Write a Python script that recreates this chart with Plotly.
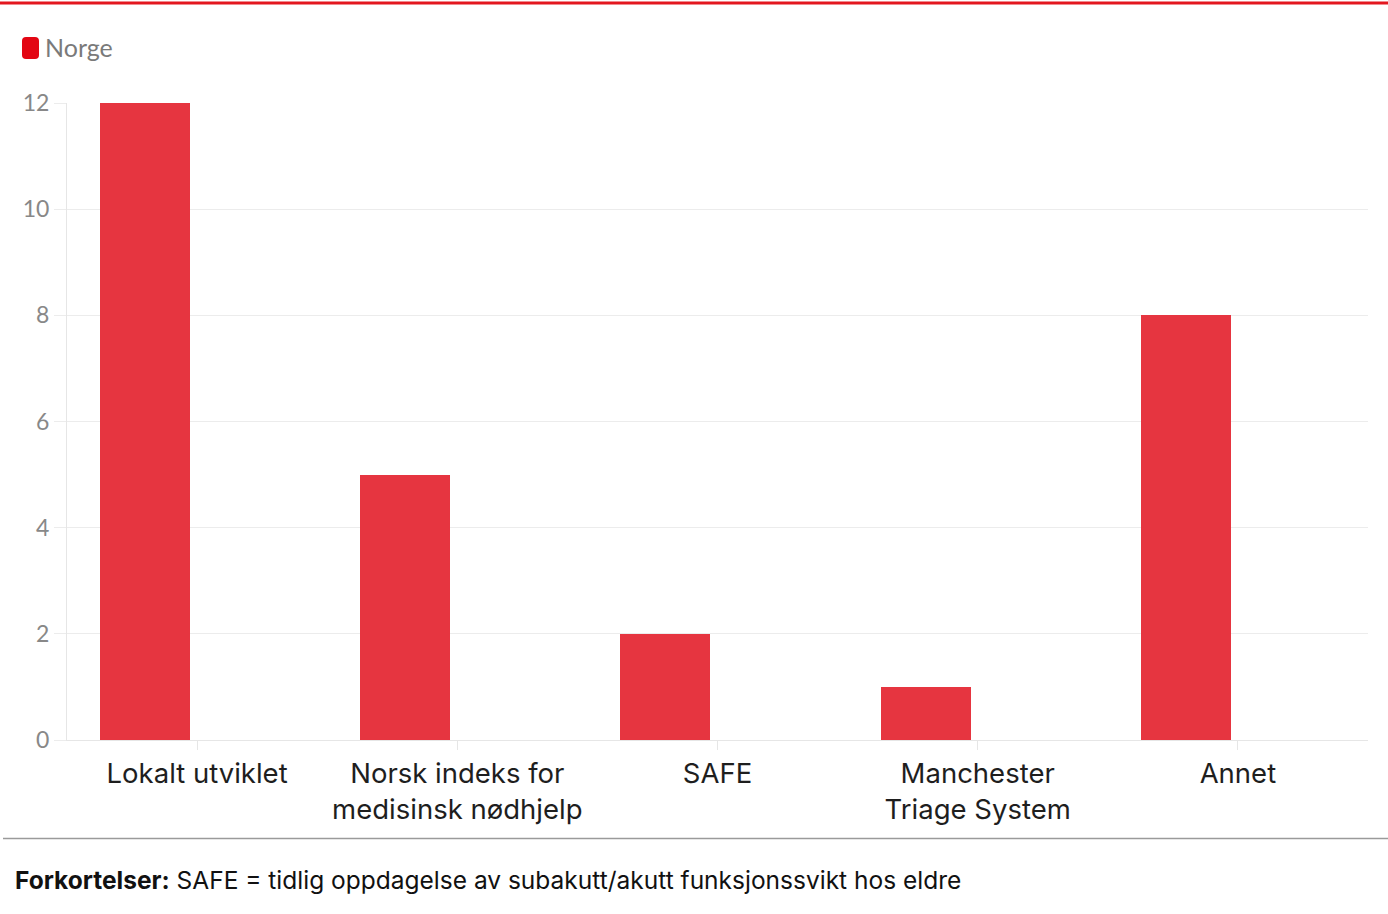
import plotly.graph_objects as go

categories = ["Lokalt utviklet", "Norsk indeks for<br>medisinsk nødhjelp", "SAFE",
              "Manchester<br>Triage System", "Annet"]
values = [12, 5, 2, 1, 8]
series_name = "Norge"
y_ticks = [0, 2, 4, 6, 8, 10, 12]

W, H = 1388, 914
L, R, T, B = 67, 20, 103, 174
pw, ph = W - L - R, H - T - B

def px_x(px):
    return (px - L) / pw

def px_y(py):
    return (H - B - py) / ph

fig = go.Figure()
fig.add_trace(go.Bar(
    x=categories, y=values, name=series_name,
    marker=dict(color="#e63540", line=dict(width=0)),
    width=0.346, offset=-0.373, showlegend=False,
))

fig.update_layout(
    width=W, height=H,
    margin=dict(l=L, r=R, t=T, b=B),
    paper_bgcolor="white", plot_bgcolor="white",
    font=dict(family="Inter, sans-serif", color="#222"),
    bargap=0,
    xaxis=dict(
        type="category", showgrid=False, showline=True, linecolor="#e6e6e6", linewidth=1,
        ticks="outside", ticklen=9, tickcolor="#e6e6e6",
        tickfont=dict(family="Inter, sans-serif", size=27.5, color="#1e1e1e"),
        range=[-0.5, 4.5], fixedrange=True,
    ),
    yaxis=dict(
        range=[0, 12], tickvals=y_ticks, showgrid=True, gridcolor="#ececec", gridwidth=1,
        zeroline=False, showline=True, linecolor="#e6e6e6",
        ticks="outside", ticklen=12, tickcolor="#ececec",
        tickfont=dict(family="Lato, sans-serif", size=23, color="#888"),
        ticklabelstandoff=0,
    ),
    shapes=[
        dict(type="line", xref="paper", yref="paper", x0=px_x(0), x1=px_x(W),
             y0=px_y(3), y1=px_y(3), line=dict(color="#e3171f", width=3)),
        dict(type="line", xref="paper", yref="paper", x0=px_x(3), x1=px_x(W),
             y0=px_y(838.5), y1=px_y(838.5), line=dict(color="#9a9a9a", width=1.5)),
        dict(type="path", xref="paper", yref="paper", xsizemode="pixel", ysizemode="pixel",
             xanchor=0, yanchor=1,
             path="M -41,66 L -32,66 Q -28,66 -28,62 L -28,48 Q -28,44 -32,44 "
                  "L -41,44 Q -45,44 -45,48 L -45,62 Q -45,66 -41,66 Z",
             fillcolor="#e30613", line=dict(width=0)),
    ],
    annotations=[
        dict(text=series_name, xref="paper", yref="paper", x=px_x(43), y=px_y(47),
             xanchor="left", yanchor="middle", showarrow=False,
             font=dict(family="Lato, sans-serif", size=25, color="#7a7a7a")),
        dict(text="<b>Forkortelser:</b> SAFE = tidlig oppdagelse av subakutt/akutt funksjonssvikt hos eldre",
             xref="paper", yref="paper", x=px_x(13), y=px_y(880),
             xanchor="left", yanchor="middle", showarrow=False,
             font=dict(family="Inter, sans-serif", size=24.5, color="#111")),
    ],
)

fig.write_html("out.html")
